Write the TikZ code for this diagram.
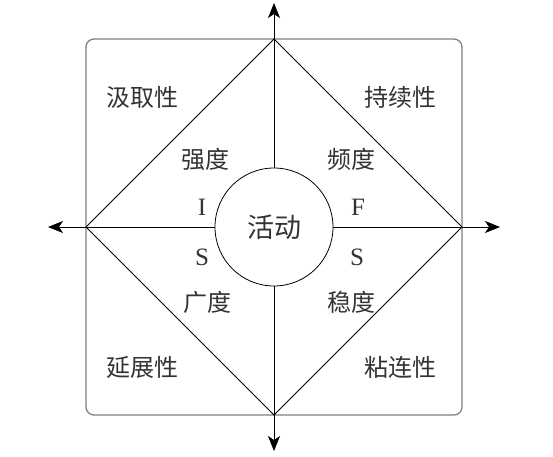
\documentclass[tikz,border=0pt]{standalone}
\usepackage{fontspec}
\setmainfont{Liberation Serif}
\newfontfamily\cjk{Noto Sans CJK SC}
\usepackage{xcolor}
\definecolor{txt}{rgb}{0.2,0.2,0.2}
\usetikzlibrary{arrows.meta, positioning, calc}
\tikzstyle{word} = [font=\cjk\fontsize{24}{24}\selectfont, text=txt]
\tikzstyle{letter} = [font=\fontsize{25}{25}\selectfont, text=txt]
\tikzstyle{axis} = [-{Stealth[length=15pt, width=12pt, inset=4pt]}]

\begin{document}
\begin{tikzpicture}[x=1pt, y=-1pt, line width=0.8pt]
    \useasboundingbox (0,0) rectangle (553,456);

    % frame
    \draw[gray, line width=1.3pt, rounded corners=8pt] (86,39) rectangle (462,415);

    % diamond corners
    \coordinate (n) at (274,39);
    \coordinate (e) at (462,227);
    \coordinate (s) at (274,415);
    \coordinate (w) at (86,227);
    \draw (n) -- (e) -- (s) -- (w) -- cycle;

    % centre
    \node[draw, circle, minimum size=118pt, inner sep=0pt, word,
          font=\cjk\fontsize{27}{27}\selectfont] (act) at (274,227) {活动};

    % axes
    \coordinate (ntip) at (274,3);
    \coordinate (etip) at (500,227);
    \coordinate (stip) at (274,451);
    \coordinate (wtip) at (48,227);
    \draw[axis] (act.north) -- (ntip);
    \draw[axis] (act.east) -- (etip);
    \draw[axis] (act.south) -- (stip);
    \draw[axis] (act.west) -- (wtip);

    % corner words
    \node[word] (get) at (142,97) {汲取性};
    \node[word] (keep) at (400,97) {持续性};
    \node[word] (spread) at (142,367) {延展性};
    \node[word] (stick) at (400,367) {粘连性};

    % inner words
    \node[word] (inten) at ($(act)+(-69,-68)$) {强度};
    \node[word] (freq) at ($(act)+(77,-68)$) {频度};
    \node[word] (breadth) at ($(act)+(-67,75)$) {广度};
    \node[word] (steady) at ($(act)+(77,75)$) {稳度};

    % letters
    \node[letter] (li) at ($(act)+(-72,-20)$) {I};
    \node[letter] (lf) at ($(act)+(84,-20)$) {F};
    \node[letter] (ls) at ($(act)+(-72,30)$) {S};
    \node[letter] (rs) at ($(act)+(83,30)$) {S};
\end{tikzpicture}
\end{document}
